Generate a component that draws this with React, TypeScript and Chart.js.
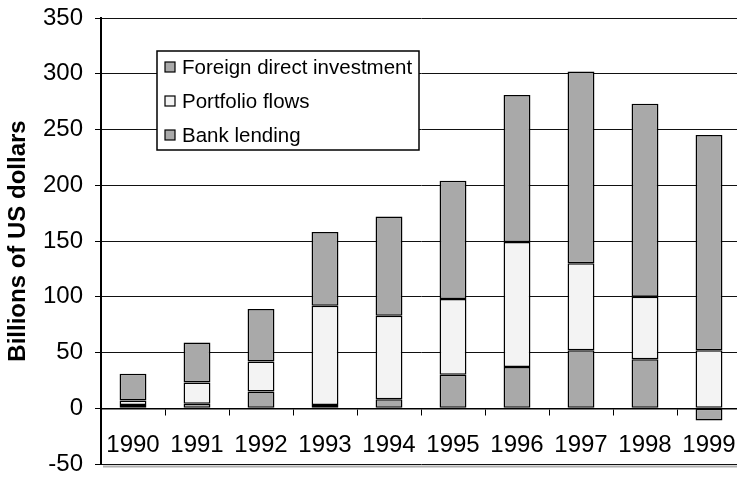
import React, { useEffect, useRef } from "react";
import { Chart, registerables } from "chart.js";

Chart.register(...registerables);

const years = ["1990", "1991", "1992", "1993", "1994", "1995", "1996", "1997", "1998", "1999"];
const bankLending = [3, 4, 15, 3, 8, 30, 37, 52, 44, -11];
const portfolioFlows = [4, 19, 27, 89, 75, 68, 112, 78, 56, 52];
const foreignDirectInvestment = [24, 36, 47, 66, 89, 106, 132, 172, 173, 193];
const seriesNames = ["Bank lending", "Portfolio flows", "Foreign direct investment"];
const yAxisTitle = "Billions of US dollars";
const yMin = -50;
const yMax = 350;
const yStep = 50;

const FONT = "Arial, 'Liberation Sans', sans-serif";
const GREY = "#a9a9a9";
const WHITE = "#f3f3f3";

const PAD_V = 30;
const CANVAS_TOP = 18 - PAD_V;
const CANVAS_W = 761;
const CANVAS_H = 464 + PAD_V - CANVAS_TOP;

const boxLegend = {
  id: "boxLegend",
  afterDraw(chart: any) {
    const { ctx, chartArea } = chart;
    // plot-area shadow under the bottom edge
    ctx.save();
    ctx.strokeStyle = "#b0b0b0";
    ctx.lineWidth = 2;
    ctx.beginPath();
    ctx.moveTo(chartArea.left + 2, chartArea.bottom + 2.5);
    ctx.lineTo(chartArea.right + 2, chartArea.bottom + 2.5);
    ctx.stroke();
    ctx.restore();

    const x = chartArea.left + 56;
    const y = chartArea.top + 33;
    const w = 262;
    const h = 99;
    ctx.save();
    ctx.fillStyle = "#ffffff";
    ctx.fillRect(x, y, w, h);
    ctx.strokeStyle = "#000";
    ctx.lineWidth = 1.5;
    ctx.strokeRect(x, y, w, h);
    const items = chart.data.datasets.slice().reverse();
    ctx.font = `20.5px ${FONT}`;
    ctx.textBaseline = "middle";
    ctx.textAlign = "left";
    items.forEach((d: any, i: number) => {
      const cy = y + 16 + i * 34;
      ctx.fillStyle = d.backgroundColor;
      ctx.fillRect(x + 8, cy - 5, 10, 10);
      ctx.lineWidth = 1.2;
      ctx.strokeRect(x + 8, cy - 5, 10, 10);
      ctx.fillStyle = "#000";
      ctx.fillText(d.label, x + 25, cy + 1);
    });
    ctx.restore();
  },
};

export default function App() {
  const ref = useRef<HTMLCanvasElement | null>(null);

  useEffect(() => {
    if (!ref.current) return;
    const chart = new Chart(ref.current, {
      type: "bar",
      data: {
        labels: years,
        datasets: [
          {
            label: seriesNames[0],
            data: bankLending,
            backgroundColor: GREY,
            borderColor: "#000",
            borderWidth: 1.5,
            borderSkipped: false,
          },
          {
            label: seriesNames[1],
            data: portfolioFlows,
            backgroundColor: WHITE,
            borderColor: "#000",
            borderWidth: 1.5,
            borderSkipped: false,
          },
          {
            label: seriesNames[2],
            data: foreignDirectInvestment,
            backgroundColor: GREY,
            borderColor: "#000",
            borderWidth: 1.5,
            borderSkipped: false,
          },
        ],
      },
      options: {
        responsive: false,
        animation: false,
        devicePixelRatio: 1,
        datasets: { bar: { barPercentage: 0.42, categoryPercentage: 1 } },
        layout: { padding: { left: 0, right: 20, top: PAD_V, bottom: PAD_V } },
        plugins: { legend: { display: false }, tooltip: { enabled: false } },
        scales: {
          x: {
            stacked: true,
            position: { y: 0 } as any,
            afterFit: (s: any) => {
              s.height = 0;
            },
            grid: {
              drawOnChartArea: false,
              drawTicks: true,
              tickLength: 6,
              tickColor: "#000",
              offset: true,
            },
            border: { display: true, color: "#000", width: 1.5 },
            ticks: {
              color: "#000",
              font: { family: FONT, size: 24 },
              padding: 16.5,
              maxRotation: 0,
              autoSkip: false,
            },
          },
          y: {
            stacked: true,
            min: yMin,
            max: yMax,
            afterFit: (s: any) => {
              s.width = 101;
            },
            grid: {
              color: "#111",
              lineWidth: 1,
              tickLength: 6,
              tickColor: "#000",
            },
            border: { display: true, color: "#000", width: 2 },
            ticks: {
              stepSize: yStep,
              color: "#000",
              font: { family: FONT, size: 24 },
              padding: 12,
            },
            title: {
              display: true,
              text: yAxisTitle,
              color: "#000",
              font: { family: FONT, size: 24, weight: "bold" },
              padding: { top: 4, bottom: 0 },
            },
          },
        },
      },
      plugins: [boxLegend],
    });
    return () => chart.destroy();
  }, []);

  return (
    <div
      style={{
        position: "fixed",
        left: 0,
        top: 0,
        width: 737,
        height: 477,
        overflow: "hidden",
        background: "#fff",
      }}
    >
      <canvas
        ref={ref}
        width={CANVAS_W}
        height={CANVAS_H}
        style={{ position: "absolute", left: 0, top: CANVAS_TOP, width: CANVAS_W, height: CANVAS_H, display: "block" }}
      />
    </div>
  );
}
